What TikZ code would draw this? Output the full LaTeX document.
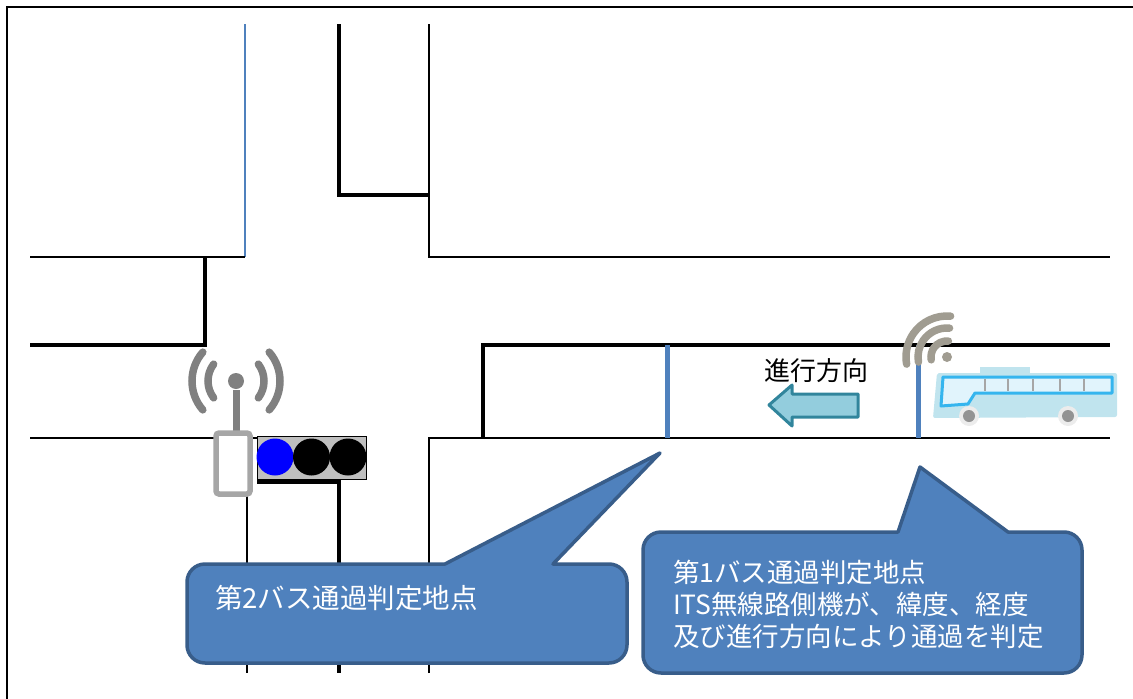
\documentclass[tikz,border=0pt]{standalone}
\usepackage{fontspec}
\usepackage{xcolor}
\usepackage{tikz}
\newfontfamily\jpfont{Noto Sans CJK JP}
\definecolor{stopblue}{RGB}{79,129,189}
\definecolor{callfill}{RGB}{79,129,189}
\definecolor{calledge}{RGB}{56,93,138}
\definecolor{antgray}{RGB}{128,128,128}
\definecolor{boxgray}{RGB}{166,166,166}
\definecolor{lampgray}{RGB}{191,191,191}
\definecolor{wifigray}{RGB}{160,156,145}
\definecolor{arrfill}{RGB}{147,205,221}
\definecolor{arredge}{RGB}{49,133,156}
\definecolor{busbody}{RGB}{192,228,238}
\definecolor{buswin}{RGB}{53,181,238}

\begin{document}
\begin{tikzpicture}[x=1pt,y=-1pt]
\tikzstyle{roadl}=[draw,line width=1.5pt]
\tikzstyle{roadh}=[draw,line width=4.8pt]
\tikzstyle{stopl}=[draw,stopblue,line width=5pt]
\tikzstyle{wave}=[draw,line width=7.5pt,line cap=round]
\tikzstyle{callout}=[draw=calledge,fill=callfill,line width=3.5pt,line join=round]
\tikzstyle{calltext}=[text=white,font=\jpfont\fontsize{26.5}{32}\selectfont,inner sep=0pt]
%
\useasboundingbox (0,0) rectangle (1133,699);
\draw[line width=2pt] (7,699) -- (7,7) -- (1133,7);
%
% crossroads
\draw[roadl,stopblue] (245,24) -- (245,257);
\draw[roadl] (30,257) -- (245,257);
\draw[roadh] (339,24) -- (339,195) -- (429,195);
\draw[roadl] (429,24) -- (429,257) -- (1110,257);
\draw[roadh] (30,345) -- (205,345) -- (205,257);
\draw[roadl] (30,438) -- (257,438);
\draw[roadl] (247,482) -- (247,673);
\draw[roadh] (257,482) -- (339,482) -- (339,673);
\draw[roadl] (429,673) -- (429,438) -- (1110,438);
\draw[roadh] (483,438) -- (483,345) -- (1110,345);
%
% pass lines
\draw[stopl] (667,345) -- (667,438);
\draw[stopl] (918,345) -- (918,438);
%
% roadside unit
\draw[antgray,line width=7pt] (236,390) -- (236,431);
\fill[antgray] (236,381) circle (8pt);
\draw[wave,antgray] (236,381) ++(-37:28pt) arc[start angle=-37,end angle=37,radius=28pt];
\draw[wave,antgray] (236,381) ++(143:28pt) arc[start angle=143,end angle=217,radius=28pt];
\draw[wave,antgray] (236,381) ++(-41:44pt) arc[start angle=-41,end angle=41,radius=44pt];
\draw[wave,antgray] (236,381) ++(139:44pt) arc[start angle=139,end angle=221,radius=44pt];
\draw[boxgray,fill=white,line width=5.5pt,rounded corners=3pt] (216,433) rectangle (250,494);
%
% signal
\draw[fill=lampgray,line width=1pt] (257,436) rectangle (366,479);
\fill[blue] (275,457) circle (18.5pt);
\fill[black] (311.5,457) circle (18.5pt);
\fill[black] (348,457) circle (18.5pt);
%
% bus
\fill[busbody] (980,367) rectangle (1030,374);
\fill[busbody,rounded corners=2pt] (937,373) -- (1117,373) -- (1117,417) -- (933,418) -- cycle;
\draw[buswin,fill=white!85!buswin,line width=3pt,line join=round]
  (943,377) -- (1112,377) -- (1112,393) -- (975,393) -- (968,404) -- (941,406) -- cycle;
\foreach \px in {985,1008,1033,1060,1084}
  \draw[gray!70,line width=2pt] (\px,379) -- (\px,391);
\foreach \wx in {969,1068}{
  \fill[white!85!gray] (\wx,416) circle (10pt);
  \fill[gray!85] (\wx,416) circle (6pt);
}
%
% wireless mark
\fill[wifigray] (947,357) circle (5pt);
\draw[wave,wifigray] (947,357) ++(85:16pt) arc[start angle=85,end angle=190,radius=16pt];
\draw[wave,wifigray] (947,357) ++(85:29pt) arc[start angle=85,end angle=190,radius=29pt];
\draw[wave,wifigray] (947,357) ++(85:41pt) arc[start angle=85,end angle=190,radius=41pt];
%
% direction of travel
\draw[arredge,fill=arrfill,line width=3pt,line join=round]
  (769,405) -- (792,385) -- (792,394) -- (858,394) -- (858,417) -- (792,417) -- (792,426) -- cycle;
\node[font=\jpfont\fontsize{26}{30}\selectfont,inner sep=0pt] (dir) at (816,371) {進行方向};
%
% callouts
\draw[callout] (300,564) -- (445,564) -- (660,453) -- (553,564) [rounded corners=18pt]
  -- (627,564) -- (627,663) -- (187,663) -- (187,564) -- cycle;
\node[calltext,anchor=west,font=\jpfont\fontsize{27.5}{32}\selectfont] (pass2) at (215,598) {第2バス通過判定地点};
%
\draw[callout] (750,532) -- (898,532) -- (920,467) -- (1008,532) [rounded corners=18pt]
  -- (1082,532) -- (1082,673) -- (643,673) -- (643,532) -- cycle;
\node[calltext,anchor=west,align=left] (pass1) at (673,604)
  {第1バス通過判定地点\\ITS無線路側機が、緯度、経度\\及び進行方向により通過を判定};
\end{tikzpicture}
\end{document}
